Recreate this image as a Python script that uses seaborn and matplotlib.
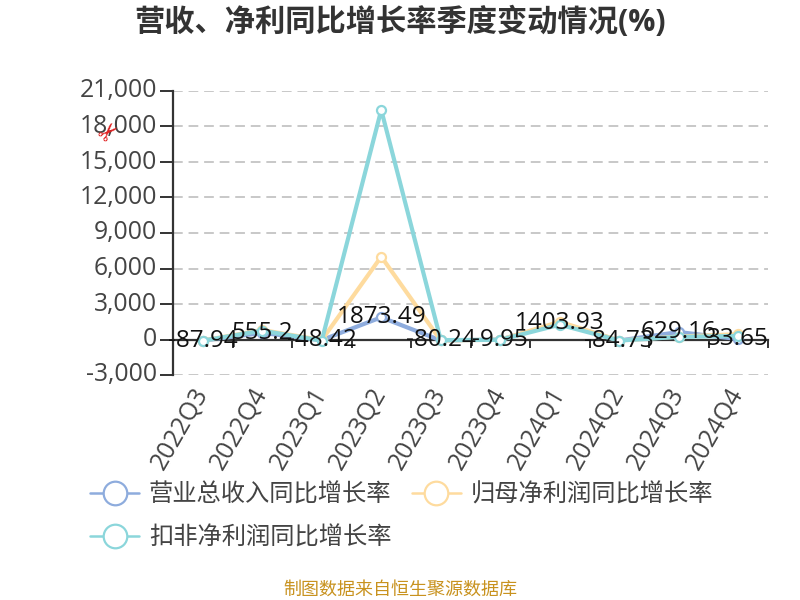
import numpy as np
import pandas as pd
import matplotlib
matplotlib.use("Agg")
import matplotlib.pyplot as plt
from matplotlib.lines import Line2D
from matplotlib.transforms import ScaledTranslation
import seaborn as sns

quarters = ["2022Q3", "2022Q4", "2023Q1", "2023Q2", "2023Q3", "2023Q4", "2024Q1", "2024Q2", "2024Q3", "2024Q4"]
revenue = [-87.94, 555.2, -48.42, 1873.49, -80.24, -9.95, 1403.93, -84.73, 629.16, 33.65]
net_profit = [-90, 800, -50, 7000, -80, -20, 1500, -85, 250, 450]
adj_profit = [-100, 750, -100, 19400, -50, -30, 1250, -90, 220, 300]
value_labels = ["-87.94", "555.2", "-48.42", "1873.49", "-80.24", "-9.95", "1403.93", "-84.73", "629.16", "33.65"]
yticks = [-3000, 0, 3000, 6000, 9000, 12000, 15000, 18000, 21000]
series_names = ["营业总收入同比增长率", "归母净利润同比增长率", "扣非净利润同比增长率"]
colors = ["#8eacdd", "#fedb9e", "#8bd6db"]

sns.set_theme(style="white")
plt.rcParams["font.family"] = ["Open Sans", "Noto Sans CJK SC", "DejaVu Sans"]

df = pd.DataFrame({"quarter": quarters, series_names[0]: revenue,
                   series_names[1]: net_profit, series_names[2]: adj_profit})
df["pos"] = np.arange(len(quarters))

fig = plt.figure(figsize=(8, 6), dpi=100)
ax = fig.add_axes([173 / 800, 1 - 375 / 600, (768 - 173) / 800, (375 - 91) / 600])

for name, c in zip(series_names, colors):
    sns.lineplot(data=df, x="pos", y=name, color=c, lw=3, marker="o", ms=6.5,
                 mfc="white", mec=c, mew=1.6, ax=ax, legend=False, zorder=3)

# set_position resets ticks, so spines go first
for side in ["top", "right"]:
    ax.spines[side].set_visible(False)
ax.spines["left"].set_color("#333333")
ax.spines["left"].set_linewidth(1.6)
ax.spines["bottom"].set_position(("data", 0))
ax.spines["bottom"].set_color("#333333")
ax.spines["bottom"].set_linewidth(1.6)

ax.set_xlim(-0.5, len(quarters) - 0.5)
ax.set_ylim(-3000, 21000)
ax.set_xlabel("")
ax.set_ylabel("")

ax.set_yticks(yticks)
ax.set_yticklabels([f"{v:,}" for v in yticks], fontsize=17.8, color="#444444")
ax.yaxis.grid(True, color="#c8c8c8", ls=(0, (5, 3)), lw=1.4)
ax.set_axisbelow(True)
ax.tick_params(axis="y", left=True, length=9.5, width=1.4, color="#333333", pad=2)
for t in ax.get_yticklabels():
    t.set_transform(t.get_transform() + ScaledTranslation(0, 3 / 100, fig.dpi_scale_trans))

ax.set_xticks(np.arange(len(quarters) + 1) - 0.5, minor=True)
ax.set_xticks(df["pos"])
ax.tick_params(axis="x", which="major", bottom=False, pad=30)
ax.tick_params(axis="x", which="minor", bottom=True, length=6, width=1.4, color="#333333")
ax.set_xticklabels(quarters, rotation=60, ha="right", va="center", rotation_mode="anchor",
                   fontsize=17.8, color="#444444")

for x, y, label in zip(df["pos"], revenue, value_labels):
    ax.text(x, y, label, ha="center", va="center", fontsize=17.5, color="#111111", zorder=4)

fig.text(400 / 800, 1 - 22 / 600, "营收、净利同比增长率季度变动情况(%)",
         ha="center", va="center", fontsize=21.8, fontweight="bold", color="#333333")
fig.text(400 / 800, 1 - 590 / 600, "制图数据来自恒生聚源数据库", ha="center", va="center",
         fontsize=13, color="#c8921e")
fig.text(110 / 800, 1 - 132 / 600, "✂", ha="center", va="center", fontsize=18, color="#e02020",
         rotation=45, family="DejaVu Sans")

handles = [Line2D([], [], color=c, lw=1.8, marker="o", ms=17, mfc="white", mec=c, mew=1.6, label=n)
           for n, c in zip(series_names, colors)]
order = [0, 2, 1]
fig.legend([handles[i] for i in order], [series_names[i] for i in order], ncol=2,
           loc="upper left", bbox_to_anchor=(71 / 800, 1 - 464 / 600), frameon=False,
           fontsize=17.5, labelcolor="#444444", handlelength=2.0, handletextpad=0.4,
           columnspacing=0.86, labelspacing=0.8, borderpad=0.3)

fig.savefig("out.png", dpi=100)
